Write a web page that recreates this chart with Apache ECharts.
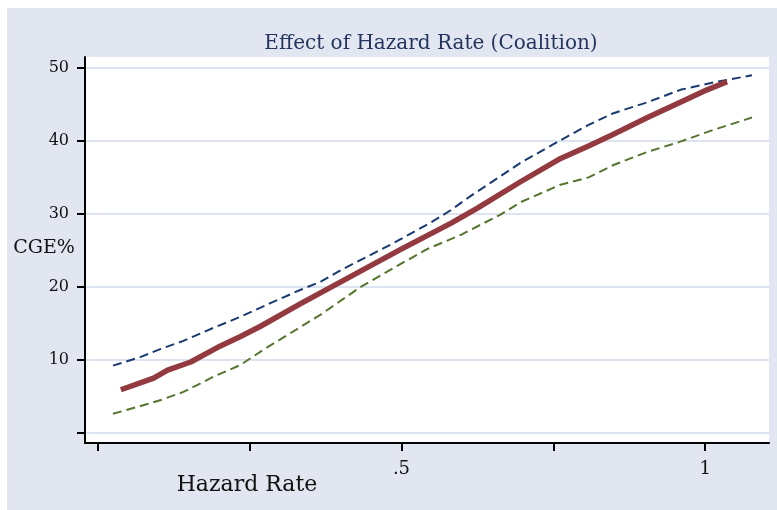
<!DOCTYPE html>
<html>
<head>
<meta charset="utf-8">
<script src="https://cdn.jsdelivr.net/npm/echarts@6/dist/echarts.min.js"></script>
<style>
html,body{margin:0;padding:0;background:#ffffff;}
#wrap{position:relative;width:777px;height:510px;background:#ffffff;overflow:hidden;}
#chart{position:absolute;left:7px;top:8px;width:770px;height:502px;}
</style>
</head>
<body>
<div id="wrap"><div id="chart"></div></div>
<script>
// Hazard rate (x) and CGE% (y)
const upperX = [0.025,0.071,0.104,0.141,0.191,0.235,0.285,0.334,0.367,0.405,0.487,0.548,0.581,0.613,0.696,0.762,0.808,0.849,0.905,0.959,1.013,1.077];
const upperY = [9.2,10.4,11.5,12.6,14.4,15.9,17.8,19.6,20.7,22.5,26.0,28.8,30.5,32.4,37.0,40.1,42.2,43.8,45.3,47.0,48.0,49.0];
const meanX = [0.038,0.092,0.115,0.153,0.202,0.235,0.268,0.334,0.416,0.498,0.581,0.625,0.696,0.762,0.808,0.849,0.905,0.959,1.003,1.036];
const meanY = [5.9,7.5,8.6,9.7,11.9,13.2,14.6,17.7,21.4,25.1,28.7,30.8,34.4,37.6,39.3,40.9,43.2,45.3,47.0,48.1];
const lowerX = [0.025,0.076,0.104,0.141,0.191,0.235,0.273,0.367,0.433,0.487,0.543,0.597,0.663,0.696,0.762,0.808,0.849,0.905,0.959,1.013,1.077];
const lowerY = [2.6,3.8,4.5,5.6,7.7,9.3,11.4,16.2,20.0,22.6,25.2,27.1,29.9,31.6,34.0,35.0,36.7,38.5,39.9,41.5,43.2];
const xTicks = [0, 0.25, 0.5, 0.75, 1];
const xTickLabels = [0.5, 1];
const yTicks = [0, 10, 20, 30, 40, 50];
const yTickLabels = [10, 20, 30, 40, 50];
const titleText = 'Effect of Hazard Rate (Coalition)';
const xName = 'Hazard Rate';
const yName = 'CGE%';

function pairs(xs, ys){ return xs.map((x,i)=>[x, ys[i]]); }

const FONT = 'DejaVu Serif';
const chart = echarts.init(document.getElementById('chart'), null, {renderer:'canvas'});
chart.setOption({
  backgroundColor: '#e1e6f0',
  animation: false,
  title: {
    text: titleText,
    left: 419, top: 21, textAlign: 'center',
    textStyle: {fontFamily: FONT, fontSize: 20, fontWeight: 'normal', color: '#24345f'}
  },
  graphic: [
    {type:'text', x:37, y:240, style:{text:yName, font:'19px "DejaVu Serif"', fill:'#111111', textAlign:'center', textVerticalAlign:'middle'}},
    {type:'text', x:240, y:477, style:{text:xName, font:'22px "DejaVu Serif"', fill:'#111111', textAlign:'center', textVerticalAlign:'middle'}}
  ],
  grid: {left:78, right:8, top:49, bottom:67, show:true, backgroundColor:'#ffffff', borderWidth:0},
  xAxis: {
    type:'value', min:-0.021, max:1.105,
    axisLine:{show:true, onZero:false, lineStyle:{color:'#000000', width:2}},
    axisTick:{show:true, customValues:xTicks, length:8, inside:false, lineStyle:{color:'#000000', width:2}},
    axisLabel:{show:true, customValues:xTickLabels, margin:17, fontFamily:FONT, fontSize:18, color:'#111111',
      formatter:(v)=> (v<1 ? String(v).replace(/^0/,'') : String(v))},
    splitLine:{show:false}
  },
  yAxis: {
    type:'value', min:-1.4, max:51.5,
    axisLine:{show:true, onZero:false, lineStyle:{color:'#000000', width:2}},
    axisTick:{show:true, customValues:yTicks, length:8, lineStyle:{color:'#000000', width:2}},
    axisLabel:{show:true, customValues:yTickLabels, margin:16, fontFamily:FONT, fontSize:16, color:'#111111'},
    splitLine:{show:true, lineStyle:{color:'#dde3ef', width:2}}
  },
  series: [
    {type:'line', name:'upper', data:pairs(upperX, upperY), showSymbol:false, smooth:false,
      lineStyle:{color:'#1a3a6f', width:2, type:[9,5]}},
    {type:'line', name:'lower', data:pairs(lowerX, lowerY), showSymbol:false, smooth:false,
      lineStyle:{color:'#55752f', width:2, type:[9,5]}},
    {type:'line', name:'mean', data:pairs(meanX, meanY), showSymbol:false, smooth:false,
      lineStyle:{color:'#923a40', width:5.5, cap:'butt', join:'round'}}
  ]
});
</script>
</body>
</html>
